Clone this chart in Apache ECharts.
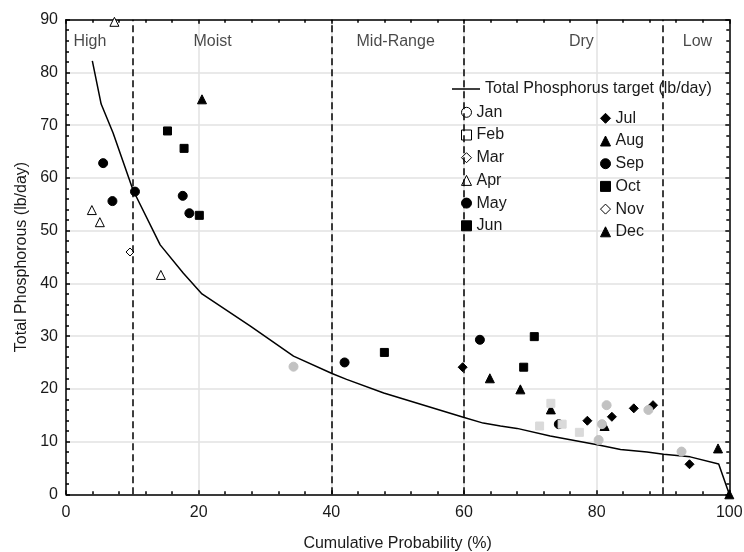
<!DOCTYPE html>
<html>
<head>
<meta charset="utf-8">
<script src="https://cdn.jsdelivr.net/npm/echarts@6/dist/echarts.min.js"></script>
<style>html,body{margin:0;padding:0;background:#fff;}#c{width:744px;height:552px;}</style>
</head>
<body>
<div id="c"></div>
<script>
// ---- data ----
var targetName = 'Total Phosphorus target (lb/day)';
var targetCurve = [[3.97,82.2],[5.3,74],[7.1,68.5],[10.1,57.7],[14.2,47.3],[17.7,41.9],[20.5,38.0],[27.8,31.9],[34.3,26.2],[40.1,22.9],[42.3,21.8],[47.9,19.2],[59.9,14.6],[62.9,13.5],[65.5,12.95],[68.0,12.5],[73.0,11.05],[80.3,9.35],[83.6,8.5],[87.6,8.0],[90.1,7.6],[94.1,7.1],[98.4,5.75],[100,0]];
var months = ['Jan','Feb','Mar','Apr','May','Jun','Jul','Aug','Sep','Oct','Nov','Dec'];
var jan = [[34.3,24.2],[80.3,10.3],[80.8,13.3],[81.5,16.9],[87.8,16.0],[92.8,8.1]];
var feb = [[73.1,17.25],[71.4,12.95],[74.8,13.3],[77.4,11.75]];
var mar = [[9.65,45.95]];
var apr = [[7.3,89.6],[3.9,53.9],[5.1,51.6],[14.3,41.6]];
var may = [[5.6,62.8],[10.4,57.4],[7.0,55.6],[17.6,56.6],[18.6,53.3]];
var jun = [[15.3,68.9],[17.8,65.6],[20.1,52.9]];
var jul = [[59.8,24.1],[78.6,13.95],[82.3,14.7],[85.6,16.3],[88.5,16.9],[94.0,5.7]];
var aug = [[63.9,22.0],[68.5,19.9],[73.1,16.1],[81.2,12.95]];
var sep = [[42.0,25.0],[62.4,29.3],[74.3,13.3]];
var oct = [[48.0,26.9],[70.6,29.9],[69.0,24.1]];
var nov = [];
var dec = [[20.5,74.9],[98.3,8.7],[100,0]];
var zoneBounds = [10, 40, 60, 90];
var zoneNames = ['High','Moist','Mid-Range','Dry','Low'];
var zoneLabelX = [3.6, 22.1, 49.7, 77.7, 95.2];
var zoneLabelY = 85.8;
var xTicks = [0,20,40,60,80,100];
var yTicks = [0,10,20,30,40,50,60,70,80,90];

// ---- chart ----
var FONT = 'Liberation Sans, Arial, sans-serif';
var TXT = '#1a1a1a';
var monthData = [jan,feb,mar,apr,may,jun,jul,aug,sep,oct,nov,dec];
var shapes = ['circle','rect','diamond','triangle','circle','rect','diamond','triangle','circle','rect','diamond','triangle'];
var fills  = ['#c2c2c2','#dadada','#fff','#fff','#000','#000','#000','#000','#000','#000','#fff','#000'];
var borders= ['#c2c2c2','#dadada','#000','#000','#000','#000','#000','#000','#000','#000','#000','#000'];
var sizes  = [9,8,8,9,9,8,9,9,9,8,8,9];

var series = [{
  name: targetName, type: 'line', data: targetCurve, symbol: 'none',
  lineStyle: {color: '#000', width: 1.5}, itemStyle: {color: '#000'},
  z: 2, silent: true,
  markLine: {
    silent: true, symbol: 'none', label: {show: false},
    lineStyle: {color: '#000', type: [7, 4], width: 1.5},
    data: zoneBounds.map(function (b) { return {xAxis: b}; })
  }
}];
months.forEach(function (m, i) {
  series.push({
    name: m, type: 'scatter', data: monthData[i], symbol: shapes[i], symbolSize: sizes[i],
    clip: false,
    itemStyle: {color: fills[i], borderColor: borders[i], borderWidth: 1, opacity: 1},
    z: (i < 2 ? 4 : 3)
  });
});
series.push({
  name: 'zones', type: 'scatter', symbolSize: 0, silent: true,
  data: zoneNames.map(function (n, i) { return {value: [zoneLabelX[i], zoneLabelY], name: n}; }),
  label: {show: true, position: 'inside', formatter: '{b}', color: TXT, fontSize: 16, fontFamily: FONT}
});

function legendItem(m, i) {
  var st = {color: fills[i], borderColor: borders[i], borderWidth: 1};
  if (i < 2) st = {color: '#fff', borderColor: '#000', borderWidth: 1};
  return {name: m, icon: shapes[i], itemStyle: st};
}

var legendText = {color: TXT, fontSize: 16, fontFamily: FONT};
var option = {
  animation: false,
  backgroundColor: '#fff',
  grid: {left: 66, right: 14.7, top: 19.7, bottom: 57.7, containLabel: false, outerBoundsMode: 'none'},
  xAxis: [{
    type: 'value', min: 0, max: 100, interval: 20,
    name: 'Cumulative Probability (%)', nameLocation: 'middle', nameGap: 41,
    nameTextStyle: {color: TXT, fontSize: 16, fontFamily: FONT},
    axisLine: {show: true, onZero: false, lineStyle: {color: '#000', width: 1.5}},
    axisTick: {show: true, inside: true, length: 4, lineStyle: {color: '#000', width: 1.5}},
    minorTick: {show: true, splitNumber: 5, length: 3, lineStyle: {color: '#000', width: 1.5}},
    axisLabel: {color: TXT, fontSize: 16, fontFamily: FONT, margin: 10},
    splitLine: {show: true, lineStyle: {color: '#e2e2e2', width: 1.5}}
  }, {
    type: 'value', min: 0, max: 100, interval: 20, position: 'top',
    axisLine: {show: true, onZero: false, lineStyle: {color: '#000', width: 1.5}},
    axisTick: {show: true, inside: true, length: 4, lineStyle: {color: '#000', width: 1.5}},
    minorTick: {show: true, splitNumber: 5, length: 3, lineStyle: {color: '#000', width: 1.5}},
    axisLabel: {show: false}, splitLine: {show: false}
  }],
  yAxis: [{
    type: 'value', min: 0, max: 90, interval: 10,
    name: 'Total Phosphorous (lb/day)', nameLocation: 'middle', nameGap: 35,
    nameTextStyle: {color: TXT, fontSize: 16, fontFamily: FONT},
    axisLine: {show: true, onZero: false, lineStyle: {color: '#000', width: 1.5}},
    axisTick: {show: true, inside: true, length: 4, lineStyle: {color: '#000', width: 1.5}},
    minorTick: {show: true, splitNumber: 5, length: 3, lineStyle: {color: '#000', width: 1.5}},
    axisLabel: {color: TXT, fontSize: 16, fontFamily: FONT, margin: 8},
    splitLine: {show: true, lineStyle: {color: '#e2e2e2', width: 1.5}}
  }, {
    type: 'value', min: 0, max: 90, interval: 10, position: 'right',
    axisLine: {show: true, onZero: false, lineStyle: {color: '#000', width: 1.5}},
    axisTick: {show: true, inside: true, length: 4, lineStyle: {color: '#000', width: 1.5}},
    minorTick: {show: true, splitNumber: 5, length: 3, lineStyle: {color: '#000', width: 1.5}},
    axisLabel: {show: false}, splitLine: {show: false}
  }],
  legend: [{
    data: [{name: targetName, icon: 'rect', itemStyle: {color: '#000', borderWidth: 0}}],
    left: 447, top: 76, itemWidth: 28, itemHeight: 1.5, itemGap: 0, padding: 5,
    textStyle: legendText, selectedMode: false
  }, {
    orient: 'vertical', left: 456, top: 99.3, itemWidth: 10, itemHeight: 10, itemGap: 6.7, padding: 5,
    data: months.slice(0, 6).map(function (m, i) { return legendItem(m, i); }),
    textStyle: legendText, selectedMode: false
  }, {
    orient: 'vertical', left: 595, top: 105.3, itemWidth: 10, itemHeight: 10, itemGap: 6.7, padding: 5,
    data: months.slice(6).map(function (m, i) { return legendItem(m, i + 6); }),
    textStyle: legendText, selectedMode: false
  }],
  series: series
};
var chart = echarts.init(document.getElementById('c'), null, {renderer: 'canvas'});
chart.setOption(option);
</script>
</body>
</html>
